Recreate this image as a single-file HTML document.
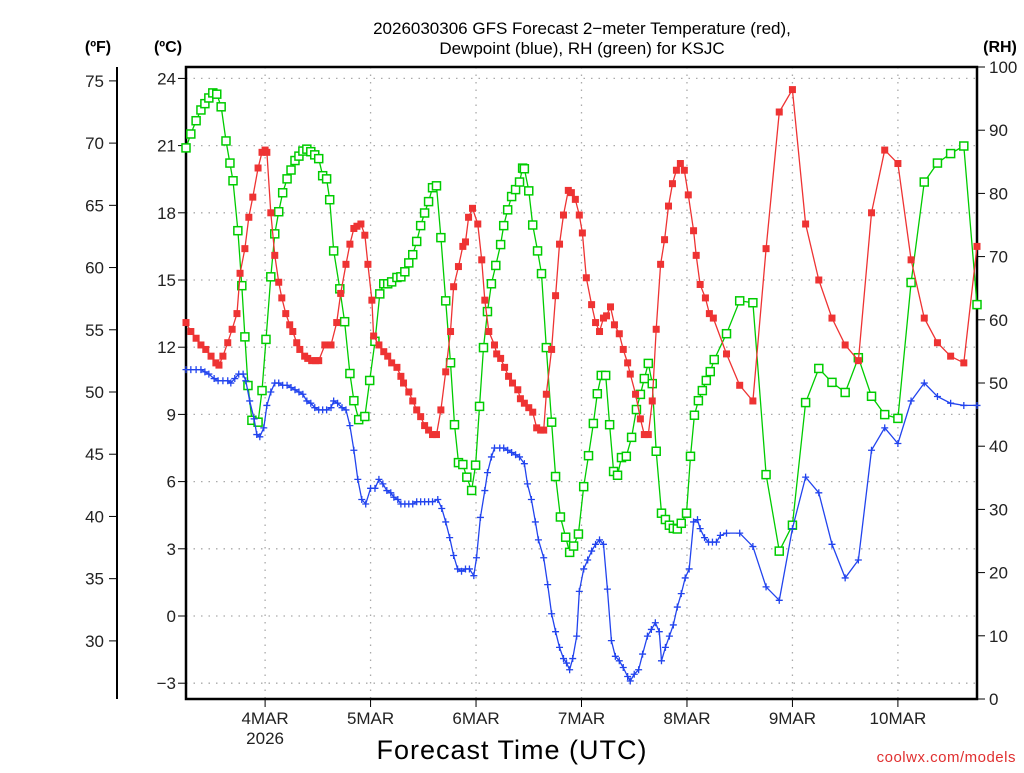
<!DOCTYPE html>
<html><head><meta charset="utf-8">
<style>
body{margin:0;background:#fff;width:1024px;height:768px;overflow:hidden;font-family:"Liberation Sans",sans-serif}
svg text{font-family:"Liberation Sans",sans-serif}
</style></head>
<body>
<svg id="chart" width="1024" height="768" xmlns="http://www.w3.org/2000/svg">
<g font-size="17" fill="#000" text-anchor="middle">
<text x="582" y="34">2026030306 GFS Forecast 2−meter Temperature (red),</text>
<text x="582" y="54">Dewpoint (blue), RH (green) for KSJC</text>
</g>
<text x="98" y="52" font-size="16" font-weight="bold" text-anchor="middle">(ºF)</text>
<text x="168" y="52" font-size="16" font-weight="bold" text-anchor="middle">(ºC)</text>
<text x="1000" y="52" font-size="16" font-weight="bold" text-anchor="middle">(RH)</text>
<text x="512" y="759" font-size="27" text-anchor="middle" letter-spacing="1">Forecast Time (UTC)</text>
<text x="1016" y="762" font-size="15" fill="#e03030" text-anchor="end" letter-spacing="0.5">coolwx.com/models</text>
<g id="grid"></g><g id="axes"></g><g id="series"></g>
</svg>
<script>
const tempHours=[0,1.1,2.3,3.4,4.5,5.7,6.8,7.5,8.4,9.5,10.5,11.6,12.3,13.4,14.3,15.2,16.4,17.3,18,18.4,19.3,20.2,21.1,21.8,22.7,23.6,24.3,25.2,25.9,27,27.7,28.6,29.5,30.2,31.6,33,34.3,35.2,36.4,37.3,38.2,38.9,39.8,40.7,41.4,42.3,42.7,43.9,45,45.9,46.8,48,48.9,49.5,50.7,51.6,52.5,53.4,54.3,55.2,56.1,57,58,59.1,60.2,60.9,62,63,63.6,64.3,65.2,66.4,67.3,68,68.9,70.2,70.7,71.6,72.5,73.4,74.3,75.5,76.1,77,78,78.9,79.8,80.7,81.4,82,83.2,84.1,85,85.9,87,87.7,88.6,89.5,90.2,91.1,92.3,93.2,94.1,95,95.7,96.6,97.5,98.6,99.5,100.5,101.1,102.3,103.4,104.3,105.2,106.1,107,108,108.9,109.8,110.7,111.6,112.5,113.4,114.3,115.5,116.1,117,118.2,119.1,120,123,126,129,132,135,138,141,144,147,150,153,156,159,162,165,168,171,174,177,180];
const tempC=[13.1,12.7,12.4,12.1,11.9,11.6,11.3,11.2,11.6,12.2,12.8,13.5,15.3,16.4,17.8,18.7,20.0,20.7,20.8,20.7,18.0,16.1,14.9,14.2,13.5,13.0,12.7,12.2,11.9,11.6,11.5,11.4,11.4,11.4,12.1,12.1,13.1,14.4,15.7,16.6,17.3,17.4,17.5,17.0,15.7,14.1,12.5,12.1,11.8,11.6,11.3,11.1,10.7,10.4,10.0,9.6,9.2,8.9,8.5,8.3,8.1,8.1,9.2,10.9,12.7,14.7,15.6,16.5,16.7,17.8,18.2,17.5,15.9,14.1,12.7,12.1,11.7,11.5,11.1,10.7,10.4,10.1,9.7,9.5,9.3,9.1,8.4,8.3,8.3,9.9,11.9,14.3,16.6,17.9,19.0,18.9,18.6,17.9,17.1,15.1,13.9,13.1,12.7,13.3,13.4,13.8,13.0,12.6,11.9,11.3,10.8,9.9,8.8,8.1,8.1,9.6,12.8,15.7,16.8,18.3,19.3,19.9,20.2,19.9,18.8,17.2,16.1,14.8,14.2,13.5,13.3,11.7,10.3,9.6,16.4,22.5,23.5,17.5,15.0,13.3,12.1,11.4,18.0,20.8,20.2,15.9,13.3,12.2,11.6,11.3,16.5];
const dewHours=[0,1.1,2.3,3.4,4.3,5.2,6.4,7.3,8.4,9.5,10.2,11.1,12,13,13.6,14.5,15.5,16.1,16.8,17.7,18.4,19.3,20.2,21.1,22,23,23.9,24.8,25.7,26.6,27.5,28.4,29.3,30.2,31.1,32,33,33.6,34.5,35.5,36.4,37.3,38.2,39.1,40,40.9,42,43,43.9,44.8,45.7,46.6,47.3,48.2,48.9,49.8,50.7,51.6,52.5,53.4,54.3,55.2,56.1,57.3,58.2,59.1,60,60.9,61.8,62.7,63.6,64.5,65.5,66.1,67,68,68.6,69.5,70.2,71.4,72.3,73.2,74.1,75,75.9,77,77.7,78.6,79.5,80.2,81.4,82.3,83.2,84.1,85,85.9,86.6,87.3,88,88.9,89.5,90.5,91.4,92.3,93.2,94.1,95,95.9,96.8,97.7,98.6,99.5,100.5,101.1,102,103,103.9,105,105.9,106.8,107.7,108.2,109.1,110,110.9,111.8,112.7,113.6,114.5,115.5,116.4,117,118,118.9,119.8,120.7,121.6,123,126,129,132,135,138,141,144,147,150,153,156,159,162,165,168,171,174,177,180];
const dewC=[11.0,11.0,11.0,11.0,10.9,10.8,10.6,10.5,10.5,10.5,10.4,10.6,10.8,10.8,10.5,9.6,8.8,8.1,8.0,8.4,9.4,10.0,10.4,10.4,10.3,10.3,10.2,10.1,10.0,9.9,9.6,9.5,9.3,9.2,9.2,9.2,9.3,9.6,9.5,9.3,9.2,8.5,7.4,6.1,5.2,5.0,5.7,5.7,6.1,5.9,5.6,5.5,5.3,5.2,5.0,5.0,5.0,5.0,5.1,5.1,5.1,5.1,5.1,5.2,4.8,4.2,3.5,2.7,2.1,2.0,2.1,2.1,1.8,2.6,4.4,5.6,6.4,7.1,7.5,7.5,7.5,7.4,7.3,7.2,7.1,6.8,5.9,5.2,4.2,3.4,2.6,1.4,0.1,-0.7,-1.4,-1.9,-2.1,-2.4,-1.9,-0.9,1.1,2.1,2.5,2.9,3.2,3.4,3.2,1.2,-1.1,-1.8,-2.0,-2.3,-2.7,-2.9,-2.6,-2.4,-1.7,-0.9,-0.6,-0.3,-0.7,-2.0,-1.4,-0.9,-0.4,0.4,1.0,1.7,2.1,4.2,4.3,3.9,3.5,3.3,3.3,3.3,3.6,3.7,3.7,3.1,1.3,0.7,3.9,6.2,5.5,3.2,1.7,2.5,7.4,8.4,7.7,9.6,10.4,9.8,9.5,9.4,9.4];
const rhHours=[0,1.1,2.3,3.4,4.3,5.2,6.1,7,8,9.1,10,10.7,11.8,12.7,13.4,14.1,15,16.4,17.3,18.2,19.3,20.2,21.1,22,23,23.9,24.8,25.7,26.6,27.5,28.4,29.3,30.2,31.1,32,32.7,33.6,35,36.1,37.3,38.2,39.3,40.7,41.8,43,44.1,45,45.9,46.8,48,48.9,49.8,50.7,51.6,52.5,53.4,54.3,55.2,56.1,57,58,59.1,60.2,61.1,62,63,63.9,65,65.9,66.8,67.7,68.6,69.5,70.5,71.6,72.3,73.2,74.1,75,75.9,76.6,77,78,78.9,80,80.9,82,83.2,84.1,85.2,86.4,87.3,88.2,89.3,90.5,91.6,92.7,93.6,94.5,95.5,96.4,97.3,98.2,99.1,100.2,101.4,102.5,103.4,104.3,105.2,106.1,107,108.2,109.1,110,110.9,111.8,112.7,113.9,114.8,115.7,116.6,117.5,118.4,119.3,120.2,123,126,129,132,135,138,141,144,147,150,153,156,159,162,165,168,171,174,177,180];
const rhPct=[87.2,89.4,91.5,93.2,94.2,95.1,95.9,95.7,93.7,88.3,84.8,82.0,74.1,65.4,57.3,49.6,44.1,43.8,48.8,56.9,66.8,73.6,77.1,80.1,82.3,83.7,85.2,85.9,86.7,87.0,86.6,86.1,85.5,82.8,82.3,79.0,70.9,64.9,59.7,51.5,47.2,44.2,44.7,50.4,56.6,64.1,65.7,65.7,66.0,66.7,66.8,67.6,69.0,70.3,72.4,74.9,76.9,78.7,80.9,81.2,73.0,63.0,53.2,43.4,37.4,37.1,35.1,33.0,37.0,46.3,55.6,61.3,65.7,68.6,71.9,74.9,77.4,79.5,80.6,81.8,84.0,83.9,80.4,75.0,70.9,67.3,55.6,43.8,35.2,28.8,25.6,23.2,24.2,26.1,33.6,38.5,43.6,48.3,51.2,51.2,43.4,36.0,35.4,38.2,38.4,41.4,45.8,48.2,50.7,53.1,49.9,39.2,29.4,28.4,27.5,27.0,26.9,27.8,29.4,38.4,44.9,47.2,48.8,50.4,51.8,53.7,57.8,63.0,62.7,35.5,23.4,27.5,46.9,52.3,50.1,48.5,54.0,47.9,45.0,44.4,65.9,81.8,84.8,86.3,87.5,62.4];
const celsiusTicks=[24,21,18,15,12,9,6,3,0,-3];
const fahrenheitTicks=[75,70,65,60,55,50,45,40,35,30];
const rhTicks=[100,90,80,70,60,50,40,30,20,10,0];
const dayLabels=["4MAR","5MAR","6MAR","7MAR","8MAR","9MAR","10MAR"];
const dayHours=[18,42,66,90,114,138,162];

const L=186,R=977,T=67,B=699;
const xS=h=>L+(h/180)*(R-L);
const yC=c=>616-(c)*22.4;
const yF=f=>yC((f-32)*5/9);
const yRH=r=>B-(r/100)*(B-T);
const NS="http://www.w3.org/2000/svg";
function mk(tag,attrs,parent){const e=document.createElementNS(NS,tag);for(const k in attrs)e.setAttribute(k,attrs[k]);parent.appendChild(e);return e;}
const grid=document.getElementById('grid'),axes=document.getElementById('axes'),ser=document.getElementById('series');

celsiusTicks.forEach(c=>{
  const y=yC(c);
  const g=mk('line',{x1:L,x2:R,y1:y,y2:y,stroke:'#aaa','stroke-width':1.3,'stroke-dasharray':'1.5 6'},grid);
  
  
  mk('line',{x1:L-8,x2:L,y1:y,y2:y,stroke:'#000','stroke-width':1},axes);
  const t=mk('text',{x:L-10,y:y+6,'font-size':17,'text-anchor':'end',fill:'#222'},axes);
  t.textContent=c<0?'−'+(-c):String(c);
  
  
});
fahrenheitTicks.forEach(f=>{
  const y=yF(f);
  mk('line',{x1:109,x2:117,y1:y,y2:y,stroke:'#000','stroke-width':1},axes);
  const t=mk('text',{x:104,y:y+6,'font-size':17,'text-anchor':'end',fill:'#222'},axes);
  t.textContent=String(f);
  
  
});
rhTicks.forEach(r=>{
  const y=yRH(r);
  mk('line',{x1:R,x2:R+8,y1:y,y2:y,stroke:'#000','stroke-width':1},axes);
  const t=mk('text',{x:989,y:y+6,'font-size':17,'text-anchor':'start',fill:'#222'},axes);
  t.textContent=String(r);
  
  
});
dayHours.forEach((h,i)=>{
  const x=xS(h);
  const g=mk('line',{x1:x,x2:x,y1:T,y2:B,stroke:'#aaa','stroke-width':1.3,'stroke-dasharray':'1.5 6'},grid);
  
  
  mk('line',{x1:x,x2:x,y1:B,y2:B+8,stroke:'#000','stroke-width':1},axes);
  const t=mk('text',{x:x,y:724,'font-size':17,'text-anchor':'middle',fill:'#222'},axes);
  t.textContent=dayLabels[i];
  
  
});
const yr=mk('text',{x:xS(18),y:744,'font-size':17,'text-anchor':'middle',fill:'#222'},axes);
yr.textContent='2026';


mk('line',{x1:117,x2:117,y1:T,y2:B,stroke:'#000','stroke-width':2},axes);
const frame=mk('rect',{x:L,y:T,width:R-L,height:B-T,fill:'none',stroke:'#000','stroke-width':2.5},axes);



function series(hours,vals,yf,color,name,marker){
  const g=mk('g',{},ser);
  
  
  const pts=hours.map((h,i)=>xS(h).toFixed(1)+','+yf(vals[i]).toFixed(1)).join(' ');
  mk('polyline',{points:pts,fill:'none',stroke:color,'stroke-width':1.3},g);
  hours.forEach((h,i)=>{
    const x=xS(h),y=yf(vals[i]);
    let m;
    if(marker==='fill') m=mk('rect',{x:x-3.5,y:y-3.5,width:7,height:7,fill:color},g);
    else if(marker==='open') m=mk('rect',{x:x-4,y:y-4,width:8,height:8,fill:'#fff',stroke:color,'stroke-width':1.5},g);
    else m=mk('path',{d:`M${x-3.5},${y}H${x+3.5}M${x},${y-3.5}V${y+3.5}`,stroke:color,'stroke-width':1.3},g);
    
    
  });
}
series(rhHours,rhPct,yRH,'#00cc00','rh-series','open');
series(dewHours,dewC,yC,'#2244ee','dewpoint-series','plus');
series(tempHours,tempC,yC,'#ee3333','temperature-series','fill');
</script>
</body></html>
